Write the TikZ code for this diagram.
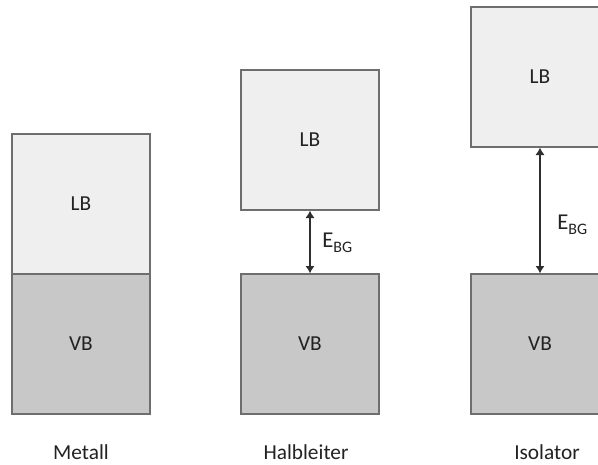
\documentclass[tikz,border=0pt]{standalone}
\usepackage{fontspec}
\setmainfont{Carlito}
\usetikzlibrary{arrows.meta}
\definecolor{lbfill}{HTML}{EFEFEF}
\definecolor{vbfill}{HTML}{C8C8C8}
\definecolor{edge}{HTML}{6E6E6E}
\definecolor{arr}{HTML}{2E2E2E}
\definecolor{txt}{HTML}{222222}
\tikzset{
  band/.style={draw=edge, line width=1pt, minimum width=103.5pt, minimum height=105pt, inner sep=0pt, text=txt, font=\fontsize{16}{18}\selectfont},
  lb/.style={band, fill=lbfill},
  vb/.style={band, fill=vbfill},
  gap/.style={draw=arr, line width=2.2pt, {Latex[length=5.5pt,width=7pt]}-{Latex[length=5.5pt,width=7pt]}},
  lbl/.style={text=txt, font=\fontsize{16}{18}\selectfont},
  ebg/.style={text=txt, font=\fontsize{17}{19}\selectfont, inner sep=0pt}
}
\newcommand{\ebgtext}{E\raisebox{-4pt}{\fontsize{12}{13}\selectfont BG}}
\begin{document}
\begin{tikzpicture}[x=0.75pt,y=-0.75pt]
\useasboundingbox (0,0) rectangle (598,464);
\clip (0,0) rectangle (598,464);
% Metall
\node[lb] (mlb) at (81,204) {LB};
\node[vb] (mvb) at (81,344) {VB};
% Halbleiter
\node[lb] (hlb) at (310,140) {LB};
\node[vb] (hvb) at (310,344) {VB};
\draw[gap] (hlb.south) -- (hvb.north);
\node[ebg, anchor=west] (he) at (322,243) {\ebgtext};
% Isolator
\node[lb] (ilb) at (540,77) {LB};
\node[vb] (ivb) at (540,344) {VB};
\draw[gap] (ilb.south) -- (ivb.north);
\node[ebg, anchor=west] (ie) at (557,225) {\ebgtext};
% labels
\node[lbl] (tm) at (81,452) {Metall};
\node[lbl] (th) at (306,452) {Halbleiter};
\node[lbl] (ti) at (547,452) {Isolator};
\end{tikzpicture}
\end{document}
